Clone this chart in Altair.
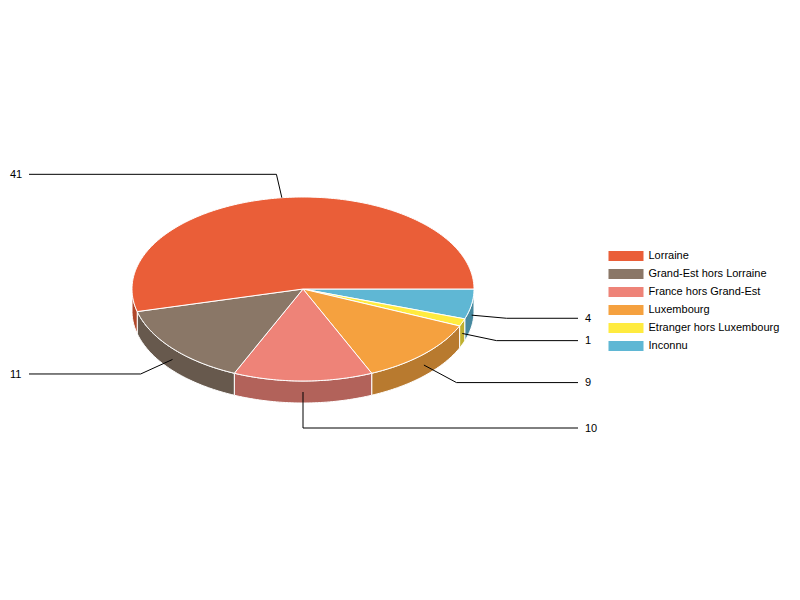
import math
import altair as alt

categories = ["Inconnu", "Etranger hors Luxembourg", "Luxembourg", "France hors Grand-Est", "Grand-Est hors Lorraine", "Lorraine"]
values = [4, 1, 9, 10, 11, 41]
colors = ["#5FB7D4", "#FFEB3F", "#F5A13F", "#EE8378", "#8A7767", "#EA5E38"]
wall_colors = ["#47899F", "#BFB02F", "#B87A2F", "#B2625A", "#67594D", "#B0472A"]
legend_order = ["Lorraine", "Grand-Est hors Lorraine", "France hors Grand-Est", "Luxembourg", "Etranger hors Luxembourg", "Inconnu"]
leader_len = [35, 35, 37, 36, 35, 24]

W, H = 784, 584
CX, CY, RX, RY, DEPTH = 295, 281, 171, 92, 22
LINE_R, TEXT_R, LINE_L, TEXT_L = 570, 577, 21, 2
total = sum(values)


def pt(deg, dy=0.0):
    a = math.radians(deg)
    return [RX * math.cos(a), RY * math.sin(a) + dy]


def arc(a0, a1, dy=0.0):
    n = max(2, int(abs(a1 - a0)) + 2)
    return [pt(a0 + (a1 - a0) * i / (n - 1), dy) for i in range(n)]


tops, walls, leaders, labels = [], [], [], []
ang = 0.0
for cat, val, col, wcol, ln in zip(categories, values, colors, wall_colors, leader_len):
    end = ang + val / total * 360
    ring = [[0, 0]] + arc(ang, end) + [[0, 0]]
    tops.append({"type": "Feature", "properties": {"name": cat},
                 "geometry": {"type": "Polygon", "coordinates": [ring]}})
    w0, w1 = max(ang, 0), min(end, 180)
    if w1 > w0:
        wring = arc(w0, w1) + arc(w1, w0, DEPTH)
        wring.append(wring[0])
        walls.append({"type": "Feature", "properties": {"name": cat, "wall": wcol},
                      "geometry": {"type": "Polygon", "coordinates": [wring]}})
    mid = (ang + end) / 2
    dy = DEPTH / 2 if mid < 180 else 0
    sx, sy = pt(mid, dy)
    a = math.radians(mid)
    dxn, dyn = RX * math.cos(a), RY * math.sin(a)
    nrm = math.hypot(dxn, dyn)
    ex, ey = sx + dxn / nrm * ln, sy + dyn / nrm * ln
    right = math.cos(a) > 0
    gx = (LINE_R if right else LINE_L) - CX
    leaders.append({"type": "Feature", "properties": {"name": cat},
                    "geometry": {"type": "LineString", "coordinates": [[sx, sy], [ex, ey], [gx, ey]]}})
    labels.append({"lon": (TEXT_R if right else TEXT_L) - CX, "lat": ey, "label": str(val)})
    ang = end


def fc(features):
    return alt.InlineData(values={"type": "FeatureCollection", "features": features},
                          format=alt.DataFormat(type="json", property="features"))


proj = alt.Projection(type="identity", scale=1, translate=[CX, CY])
color_scale = alt.Scale(domain=categories, range=colors)
wall_scale = alt.Scale(domain=categories, range=wall_colors)

wall_layer = alt.Chart(fc(walls)).mark_geoshape(stroke="white", strokeWidth=1).encode(
    fill=alt.Fill("properties.name:N", scale=wall_scale, legend=None)
).project(**proj.to_dict())

legend = alt.Legend(
    title=None, orient="none", legendX=612.5, legendY=242.5,
    symbolType="M-3.5,-1H3.5V1H-3.5Z", symbolSize=100, symbolStrokeWidth=0,
    labelOffset=17, labelFont="Liberation Sans", labelFontSize=11, labelColor="#000000",
    rowPadding=6, labelLimit=200, values=legend_order,
)
top_layer = alt.Chart(fc(tops)).mark_geoshape(stroke="white", strokeWidth=1).encode(
    color=alt.Color("properties.name:N", scale=color_scale, legend=legend, sort=legend_order)
).project(**proj.to_dict())

leader_layer = alt.Chart(fc(leaders)).mark_geoshape(filled=False, stroke="black", strokeWidth=1).project(**proj.to_dict())

label_layer = alt.Chart(alt.Data(values=labels)).mark_text(
    align="left", baseline="middle", font="Liberation Sans", fontSize=11, color="black", dy=0.7
).encode(
    longitude="lon:Q", latitude="lat:Q", text="label:N"
).project(**proj.to_dict())

chart = alt.layer(wall_layer, top_layer, leader_layer, label_layer).resolve_scale(
    color="independent", fill="independent"
).properties(
    width=W, height=H, padding=0, autosize=alt.AutoSizeParams(type="none")
).configure_view(stroke=None)

chart.save("out.html", embed_options={"renderer": "svg", "actions": False})
